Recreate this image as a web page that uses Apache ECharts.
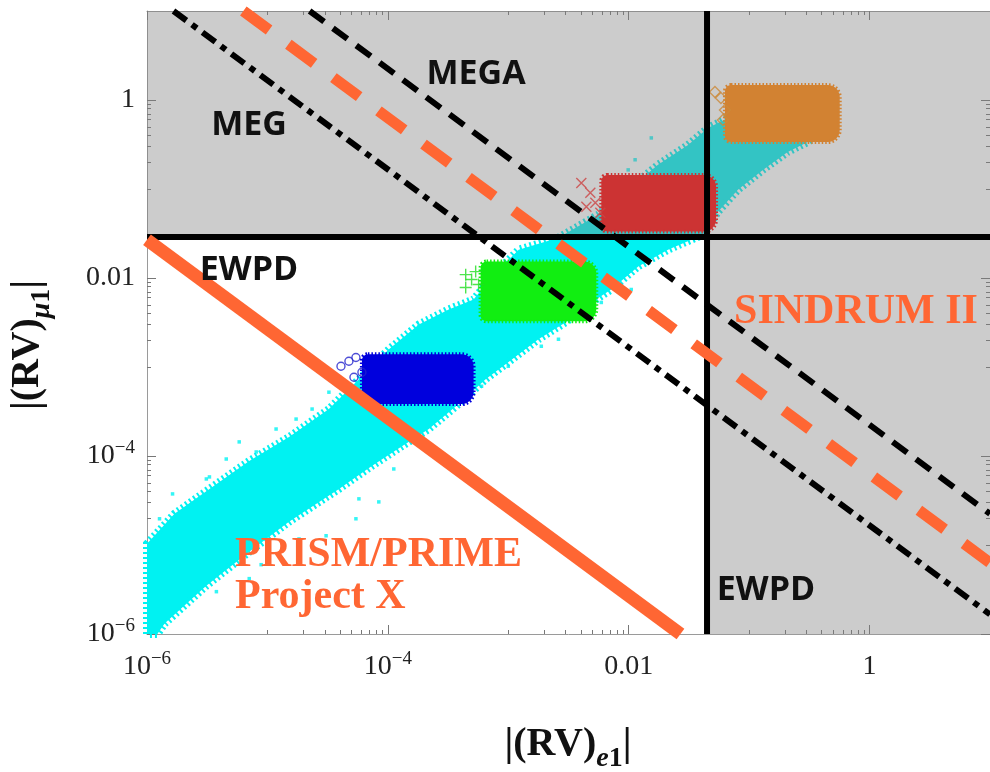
<!DOCTYPE html>
<html>
<head>
<meta charset="utf-8">
<script src="https://cdn.jsdelivr.net/npm/echarts@6/dist/echarts.min.js"></script>
<style>
html,body{margin:0;padding:0;background:#fff;}
#chart{width:990px;height:772px;}
</style>
</head>
<body>
<div id="chart"></div>
<script>
// ---------- axis ranges & ticks ----------
const axisMin = 1e-6;
const axisMax = 10;
const tickVals = [1e-6, 1e-4, 1e-2, 1];
const tickText = ['{b|10}{s|\u22126}', '{b|10}{s|\u22124}', '{b|0.01}', '{b|1}'];
const minorDecades = [1e-5, 1e-3, 1e-1];
const minorTicks = [];
minorDecades.forEach(d => { for (let m = 1; m <= 9; m++) minorTicks.push(+(m * d).toPrecision(3)); });

// ---------- bounds ----------
const ewpdX = 0.0447;   // EWPD bound on |(RV)e1|
const ewpdY = 0.0288;   // EWPD bound on |(RV)mu1|

// ---------- experimental lines (x*y = const) ----------
const megLine     = [[1.66e-6, 10], [10, 1.66e-6]];
const megaLine    = [[2.24e-5, 10], [10, 2.24e-5]];
const sindrumLine = [[6.31e-6, 10], [10, 6.31e-6]];
const prismLine   = [[1e-6, 2.69e-2], [2.69e-2, 1e-6]];
const ewpdHLine   = [[1e-6, ewpdY], [10, ewpdY]];
const ewpdVLine   = [[ewpdX, 1e-6], [ewpdX, 10]];

// ---------- scan cloud (outline of the dense cyan region) ----------
const cloudOutline = [
  [1.0e-6, 1.03e-5], [1.69e-6, 2.24e-5], [3.30e-6, 4.27e-5], [7.06e-6, 8.79e-5],
  [1.51e-5, 1.63e-4], [3.24e-5, 3.37e-4], [5.75e-5, 7.29e-4], [1.02e-4, 1.58e-3],
  [1.81e-4, 3.01e-3], [3.20e-4, 4.44e-3], [5.15e-4, 5.74e-3], [7.55e-4, 1.09e-2],
  [1.22e-3, 2.08e-2], [2.61e-3, 2.84e-2], [5.58e-3, 5.14e-2], [9.9e-3, 9.8e-2],
  [1.75e-2, 0.187], [3.11e-2, 0.313], [4.55e-2, 0.485], [6.67e-2, 0.628],
  [0.209, 0.734], [0.371, 0.406], [0.307, 0.338], [0.209, 0.261],
  [0.130, 0.164], [8.07e-2, 9.8e-2], [5.51e-2, 5.56e-2], [4.14e-2, 3.07e-2],
  [2.12e-2, 2.08e-2], [1.20e-2, 1.35e-2], [7.16e-3, 7.43e-3], [4.89e-3, 5.31e-3],
  [2.98e-3, 3.17e-3], [1.78e-3, 2.05e-3], [1.0e-3, 1.13e-3], [6.49e-4, 7.29e-4],
  [3.87e-4, 3.83e-4], [2.19e-4, 2.01e-4], [1.31e-4, 1.29e-4], [7.36e-5, 7.73e-5],
  [3.93e-5, 4.27e-5], [1.51e-5, 1.82e-5], [7.06e-6, 8.39e-6], [3.11e-6, 3.49e-6],
  [1.40e-6, 1.31e-6], [1.22e-6, 1.0e-6], [1.0e-6, 1.0e-6]
];
// isolated scan points outside the dense band
const cloudDots = [
  [1.63e-6, 3.75e-5], [1.27e-6, 1.97e-5], [3.30e-6, 5.82e-5], [5.83e-6, 1.44e-4],
  [1.18e-5, 2.01e-4], [2.35e-5, 3.37e-4], [3.24e-5, 5.21e-4], [8.87e-6, 6.01e-6],
  [1.83e-5, 1.17e-5], [5.75e-5, 3.30e-5], [1.12e-4, 7.15e-5], [2.61e-3, 2.05e-3],
  [1.13e-2, 0.213], [1.54e-2, 0.375], [9.9e-3, 0.164],
  [4.55e-6, 9.25e-5], [8.07e-6, 1.11e-4], [1.73e-5, 2.60e-4], [3.11e-6, 5.52e-5],
  [3.77e-6, 2.99e-6], [7.06e-6, 4.19e-6], [3.07e-5, 1.27e-5], [5.43e-5, 1.97e-5],
  [8.41e-5, 3.05e-5], [1.81e-4, 2.86e-3], [1.49e-4, 2.21e-3], [6.0e-4, 6.08e-4],
  [1.0e-3, 1.02e-3], [1.88e-3, 1.71e-3], [5.92e-3, 5.31e-3], [1.05e-2, 7.43e-3]
];

// ---------- benchmark clusters [xMin, yMin, xMax, yMax] ----------
const clusterBlue   = [6.09e-5, 3.83e-4, 5.15e-4, 1.39e-3];
const clusterGreen  = [5.89e-4, 3.26e-3, 5.38e-3, 1.53e-2];
const clusterRed    = [5.92e-3, 3.32e-2, 5.31e-2, 0.144];
const clusterOrange = [6.30e-2, 0.338, 0.565, 1.47];

const blueCircles   = [[4.08e-5, 1.02e-3], [4.75e-5, 1.16e-3], [5.43e-5, 1.28e-3], [6.09e-5, 8.73e-4], [5.23e-5, 7.67e-4]];
const greenPlus     = [[4.43e-4, 1.09e-2], [5.36e-4, 1.18e-2], [4.43e-4, 7.83e-3], [5.67e-4, 8.45e-3], [4.96e-4, 9.62e-3]];
const redCross      = [[4.04e-3, 0.117], [4.80e-3, 9.08e-2], [4.45e-3, 6.33e-2], [5.28e-3, 7.01e-2], [5.81e-3, 5.42e-2]];
const orangeDiamond = [[5.20e-2, 1.23], [5.83e-2, 1.05], [6.30e-2, 0.773], [6.06e-2, 0.597]];

// ---------- styles ----------
const CYAN = '#00f2f2';
const ORANGE = '#ff6633';
const SERIF = '"Liberation Serif", "Times New Roman", serif';
const SANS = '"Open Sans", "Noto Sans", sans-serif';

function labelFmt(v) {
  const i = tickVals.findIndex(t => Math.abs(Math.log10(t) - Math.log10(v)) < 1e-6);
  return i >= 0 ? tickText[i] : '';
}
const labelRich = {
  b: { fontFamily: SERIF, fontSize: 28, color: '#222', lineHeight: 34, verticalAlign: 'middle' },
  s: { fontFamily: SERIF, fontSize: 19, color: '#222', lineHeight: 20, verticalAlign: 'top' }
};

function makeAxis(dim, position, kind) {
  const ax = {
    type: 'log', logBase: 10, min: axisMin, max: axisMax,
    position: position, gridIndex: 0,
    splitLine: { show: false },
    axisLine: { show: kind === 'major', lineStyle: { color: '#9a9a9a', width: 1 } },
    axisTick: {
      show: true, inside: true,
      length: kind === 'major' ? 9 : 4,
      customValues: kind === 'major' ? tickVals : minorTicks,
      lineStyle: { color: '#777', width: 1 }
    },
    axisLabel: { show: false }
  };
  if (kind === 'major' && (position === 'bottom' || position === 'left')) {
    ax.axisLabel = {
      show: true,
      customValues: tickVals,
      formatter: labelFmt,
      rich: labelRich,
      margin: dim === 'x' ? 16 : 12
    };
  }
  return ax;
}

const chart = echarts.init(document.getElementById('chart'), null, { renderer: 'canvas' });

function lineSeries(name, data, color, width, type, z) {
  return {
    name: name, type: 'line', data: data, symbol: 'none', z: z,
    xAxisIndex: 0, yAxisIndex: 0, silent: true, clip: true,
    lineStyle: { color: color, width: width, type: type, cap: 'butt' }
  };
}

function clusterSeries(name, box, color, z) {
  return {
    name: name, type: 'custom', z: z, xAxisIndex: 0, yAxisIndex: 0, silent: true,
    data: [box],
    encode: { x: [0, 2], y: [1, 3] },
    renderItem: function (params, api) {
      const p0 = api.coord([api.value(0), api.value(1)]);
      const p1 = api.coord([api.value(2), api.value(3)]);
      return {
        type: 'rect',
        shape: { x: p0[0], y: p1[1], width: p1[0] - p0[0], height: p0[1] - p1[1], r: [6, 12, 12, 6] },
        style: { fill: color, stroke: color, lineWidth: 4, lineDash: [1.5, 2] }
      };
    }
  };
}

function markerSeries(name, data, symbol, color, size, z) {
  return {
    name: name, type: 'scatter', data: data, symbol: symbol, symbolSize: size, z: z,
    xAxisIndex: 0, yAxisIndex: 0, silent: true,
    itemStyle: { color: 'rgba(0,0,0,0)', borderColor: color, borderWidth: 1.4 }
  };
}

const option = {
  animation: false,
  backgroundColor: '#ffffff',
  grid: { left: 147, top: 11, width: 846, height: 623 },
  xAxis: [
    makeAxis('x', 'bottom', 'major'),
    makeAxis('x', 'bottom', 'minor'),
    makeAxis('x', 'top', 'major'),
    makeAxis('x', 'top', 'minor')
  ],
  yAxis: [
    makeAxis('y', 'left', 'major'),
    makeAxis('y', 'left', 'minor'),
    makeAxis('y', 'right', 'major'),
    makeAxis('y', 'right', 'minor')
  ],
  series: [
    {
      name: 'scan', type: 'custom', z: 1, xAxisIndex: 0, yAxisIndex: 0, silent: true,
      data: cloudOutline,
      renderItem: function (params, api) {
        if (params.dataIndex !== 0) return null;
        const pts = cloudOutline.map(p => api.coord(p));
        return {
          type: 'polygon',
          shape: { points: pts },
          style: { fill: CYAN, stroke: CYAN, lineWidth: 8, lineDash: [2, 3] }
        };
      }
    },
    {
      name: 'scanDots', type: 'scatter', z: 1, xAxisIndex: 0, yAxisIndex: 0, silent: true,
      data: cloudDots, symbol: 'rect', symbolSize: 3.5, itemStyle: { color: CYAN }
    },
    {
      name: 'excluded', type: 'custom', z: 2, xAxisIndex: 0, yAxisIndex: 0, silent: true,
      data: [[ewpdX, ewpdY]],
      renderItem: function (params, api) {
        const cs = params.coordSys;
        const p = api.coord([api.value(0), api.value(1)]);
        return {
          type: 'polygon',
          shape: { points: [
            [cs.x, cs.y], [cs.x + cs.width, cs.y], [cs.x + cs.width, cs.y + cs.height],
            [p[0], cs.y + cs.height], [p[0], p[1]], [cs.x, p[1]]
          ] },
          style: { fill: 'rgba(128,128,128,0.4)' }
        };
      }
    },
    clusterSeries('blue', clusterBlue, '#0000dd', 3),
    clusterSeries('green', clusterGreen, '#11ee11', 3),
    clusterSeries('red', clusterRed, '#cc3333', 3),
    clusterSeries('orange', clusterOrange, '#d28232', 3),
    markerSeries('blueMk', blueCircles, 'circle', '#2222cc', 8, 3),
    markerSeries('greenMk', greenPlus, 'path://M0,5L10,5M5,0L5,10', '#22dd22', 12, 3),
    markerSeries('redMk', redCross, 'path://M0,0L10,10M10,0L0,10', '#cc4444', 10, 3),
    markerSeries('orangeMk', orangeDiamond, 'diamond', '#cc8a3a', 11, 3),
    lineSeries('EWPD h', ewpdHLine, '#000', 6, 'solid', 4),
    lineSeries('EWPD v', ewpdVLine, '#000', 6, 'solid', 4),
    lineSeries('MEG', megLine, '#000', 6, [16, 7, 6, 7], 5),
    lineSeries('MEGA', megaLine, '#000', 6, [18, 11], 5),
    lineSeries('SINDRUM II', sindrumLine, ORANGE, 11, [32, 24], 5),
    lineSeries('PRISM', prismLine, ORANGE, 13, 'solid', 5)
  ],
  graphic: [
    { type: 'text', x: 476, y: 74, z: 100, style: { text: 'MEGA', font: 'bold 34px ' + SANS, fill: '#111', align: 'center', verticalAlign: 'middle' } },
    { type: 'text', x: 249, y: 125, z: 100, style: { text: 'MEG', font: 'bold 34px ' + SANS, fill: '#111', align: 'center', verticalAlign: 'middle' } },
    { type: 'text', x: 249, y: 270, z: 100, style: { text: 'EWPD', font: 'bold 34px ' + SANS, fill: '#111', align: 'center', verticalAlign: 'middle' } },
    { type: 'text', x: 766, y: 590, z: 100, style: { text: 'EWPD', font: 'bold 34px ' + SANS, fill: '#111', align: 'center', verticalAlign: 'middle' } },
    { type: 'text', x: 856, y: 312, z: 100, style: { text: 'SINDRUM II', font: 'bold 42px ' + SERIF, fill: ORANGE, align: 'center', verticalAlign: 'middle' } },
    { type: 'text', x: 235, y: 555, z: 100, style: { text: 'PRISM/PRIME', font: 'bold 42px ' + SERIF, fill: ORANGE, align: 'left', verticalAlign: 'middle' } },
    { type: 'text', x: 235, y: 597, z: 100, style: { text: 'Project X', font: 'bold 42px ' + SERIF, fill: ORANGE, align: 'left', verticalAlign: 'middle' } },
    {
      type: 'text', x: 568, y: 749, z: 100,
      style: {
        text: '{b||(RV)}{e|e}{n|1}{b||}',
        align: 'center', verticalAlign: 'middle',
        rich: {
          b: { fontFamily: SERIF, fontWeight: 'bold', fontSize: 40, fill: '#111', lineHeight: 48, verticalAlign: 'top' },
          e: { fontFamily: SERIF, fontWeight: 'bold', fontStyle: 'italic', fontSize: 28, fill: '#111', lineHeight: 28, verticalAlign: 'bottom' },
          n: { fontFamily: SERIF, fontWeight: 'bold', fontSize: 28, fill: '#111', lineHeight: 28, verticalAlign: 'bottom' }
        }
      }
    },
    {
      type: 'text', x: 32, y: 345, z: 100, rotation: Math.PI / 2,
      style: {
        text: '{b||(RV)}{e|\u03bc}{n|1}{b||}',
        align: 'center', verticalAlign: 'middle',
        rich: {
          b: { fontFamily: SERIF, fontWeight: 'bold', fontSize: 40, fill: '#111', lineHeight: 48, verticalAlign: 'top' },
          e: { fontFamily: SERIF, fontWeight: 'bold', fontStyle: 'italic', fontSize: 28, fill: '#111', lineHeight: 28, verticalAlign: 'bottom' },
          n: { fontFamily: SERIF, fontWeight: 'bold', fontSize: 28, fill: '#111', lineHeight: 28, verticalAlign: 'bottom' }
        }
      }
    }
  ]
};
chart.setOption(option);
</script>
</body>
</html>
